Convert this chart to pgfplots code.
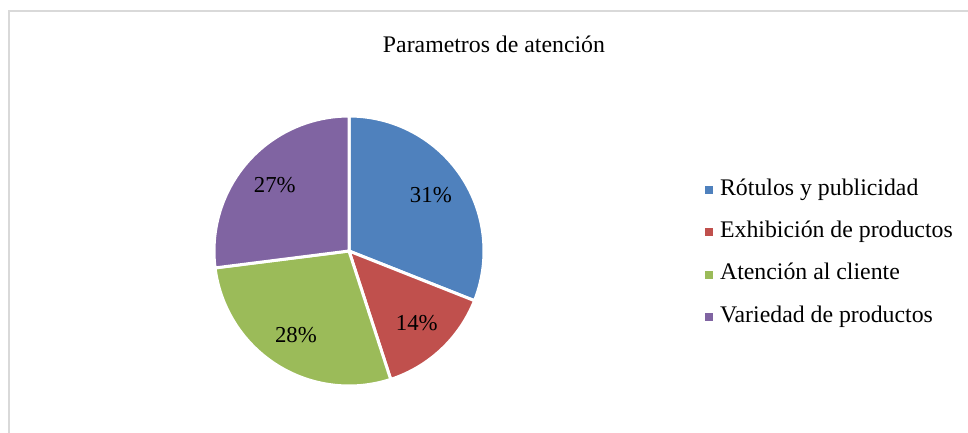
\documentclass[border=0pt]{standalone}
\usepackage{fontspec}
\setmainfont{Liberation Serif}
\usepackage{pgfplots}
\usepackage{pgfplotstable}
\pgfplotsset{compat=1.18}

\definecolor{sliceblue}{RGB}{79,129,189}
\definecolor{slicered}{RGB}{192,80,77}
\definecolor{slicegreen}{RGB}{155,187,89}
\definecolor{slicepurple}{RGB}{128,100,162}
\definecolor{framegray}{RGB}{217,217,217}

% values in percent, clockwise from 12 o'clock
\pgfplotstableread{
idx value
0 31
1 14
2 28
3 27
}\piedata

\pgfplotstablegetelem{0}{value}\of\piedata \let\vA\pgfplotsretval
\pgfplotstablegetelem{1}{value}\of\piedata \let\vB\pgfplotsretval
\pgfplotstablegetelem{2}{value}\of\piedata \let\vC\pgfplotsretval
\pgfplotstablegetelem{3}{value}\of\piedata \let\vD\pgfplotsretval
\pgfmathsetmacro\aO{90}
\pgfmathsetmacro\aA{\aO-3.6*\vA}
\pgfmathsetmacro\aB{\aA-3.6*\vB}
\pgfmathsetmacro\aC{\aB-3.6*\vC}
\pgfmathsetmacro\aD{\aC-3.6*\vD}

\newcommand\bigfont{\fontsize{23.8}{28}\selectfont}
\newcommand\labfont{\fontsize{22.8}{27}\selectfont}

% #1 colour, #2 start angle, #3 end angle, #4 value
\newcommand\slice[4]{%
  \fill[#1, draw=white, line width=3pt, line join=round]
    (axis cs:349,181) -- ([shift={(#2:135pt)}]axis cs:349,181)
    arc[start angle=#2, end angle=#3, radius=135pt] -- cycle;
  \node[font=\labfont, inner sep=0pt] at ([shift={({(#2+#3)/2}:99pt)}]axis cs:349,181) {#4\%};
}

\begin{document}
\begin{tikzpicture}
\begin{axis}[
    at={(0,0)}, anchor=south west,
    scale only axis,
    width=968pt, height=432pt,
    xmin=0, xmax=968, ymin=0, ymax=432,
    hide axis,
    clip=false,
    legend cell align=left,
    legend image code/.code={\fill[#1] (0pt,-3.5pt) rectangle (7pt,3.5pt);},
    legend style={
      at={(axis cs:704.5,253)}, anchor=north west,
      draw=none, fill=none, inner sep=0pt,
      font=\bigfont,
      row sep=21.3pt,
      nodes={inner sep=0pt, text height=16pt, text depth=5pt},
      /tikz/every odd column/.append style={column sep=8pt},
    },
]
\draw[framegray, line width=1.8pt] (axis cs:8.8,-5) |- (axis cs:975,421.2);

\slice{sliceblue}{\aO}{\aA}{\vA}
\slice{slicered}{\aA}{\aB}{\vB}
\slice{slicegreen}{\aB}{\aC}{\vC}
\slice{slicepurple}{\aC}{\aD}{\vD}

\node[font=\bigfont, anchor=base, inner sep=0pt] at (axis cs:494,379) {Parametros de atención};

\addlegendimage{sliceblue}
\addlegendentry{Rótulos y publicidad}
\addlegendimage{slicered}
\addlegendentry{Exhibición de productos}
\addlegendimage{slicegreen}
\addlegendentry{Atención al cliente}
\addlegendimage{slicepurple}
\addlegendentry{Variedad de productos}
\end{axis}
\pgfresetboundingbox
\useasboundingbox (0,0) rectangle (968pt,432pt);
\end{tikzpicture}
\end{document}
